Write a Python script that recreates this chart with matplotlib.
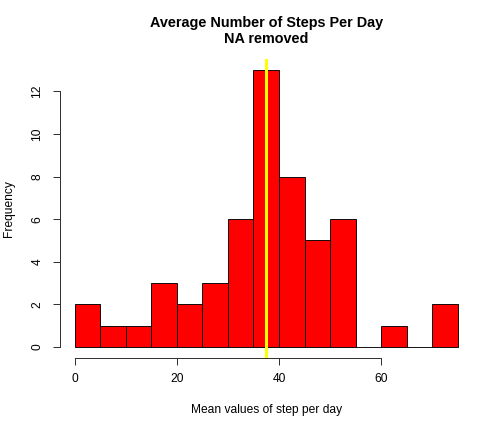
import matplotlib

matplotlib.use("Agg")
import matplotlib.pyplot as plt  # noqa: E402
import numpy as np  # noqa: E402

plt.rcParams["font.family"] = ["Liberation Sans", "DejaVu Sans"]

# histogram of mean steps per day (bins of width 5)
bin_edges = [0, 5, 10, 15, 20, 25, 30, 35, 40, 45, 50, 55, 60, 65, 70, 75]
counts = [2, 1, 1, 3, 2, 3, 6, 13, 8, 5, 6, 0, 1, 0, 2]
mean_steps = 37.38
x_ticks = [0, 20, 40, 60]
y_ticks = [0, 2, 4, 6, 8, 10, 12]

W, H = 504, 432
fig = plt.figure(figsize=(W / 72, H / 72), dpi=72)
left, right, top, bottom = 59.5, 473, 59, 358
ax = fig.add_axes([left / W, 1 - bottom / H, (right - left) / W, (bottom - top) / H])

ax.hist(np.array(bin_edges[:-1]) + 2.5, bins=bin_edges, weights=counts,
        color="#ff0000", edgecolor="black", linewidth=0.9, zorder=2)
ax.axvline(mean_steps, color="#ffff00", lw=3, zorder=3)

span_x = bin_edges[-1] - bin_edges[0]
ax.set_xlim(bin_edges[0] - 0.04 * span_x, bin_edges[-1] + 0.04 * span_x)
ymax = max(counts)
ax.set_ylim(-0.04 * ymax, ymax * 1.04)

for s in ("top", "right"):
    ax.spines[s].set_visible(False)
ax.spines["bottom"].set_bounds(x_ticks[0], x_ticks[-1])
ax.spines["left"].set_bounds(y_ticks[0], y_ticks[-1])
for s in ("bottom", "left"):
    ax.spines[s].set_linewidth(1)
    ax.spines[s].set_color("#333333")

ax.set_xticks(x_ticks)
ax.set_yticks(y_ticks)
ax.tick_params(axis="both", length=7, width=1, color="#333333",
               labelsize=12, labelcolor="black")
ax.tick_params(axis="x", pad=8)
ax.tick_params(axis="y", pad=9, labelrotation=90)
for lab in ax.get_yticklabels():
    lab.set_va("center")

ax.set_xlabel("Mean values of step per day", fontsize=12)
ax.xaxis.label.set_va("center")
ax.xaxis.set_label_coords(0.5, (bottom - 410) / (bottom - top))
ax.set_ylabel("Frequency", fontsize=12)
ax.yaxis.label.set_va("center")
ax.yaxis.set_label_coords((9 - left) / (right - left), 0.5)

ax.text(0.5, (bottom - 31) / (bottom - top),
        "Average Number of Steps Per Day\nNA removed",
        transform=ax.transAxes, ha="center", va="center",
        fontsize=14.4, fontweight="bold", linespacing=1.2)

fig.savefig("out.png", dpi=72)
